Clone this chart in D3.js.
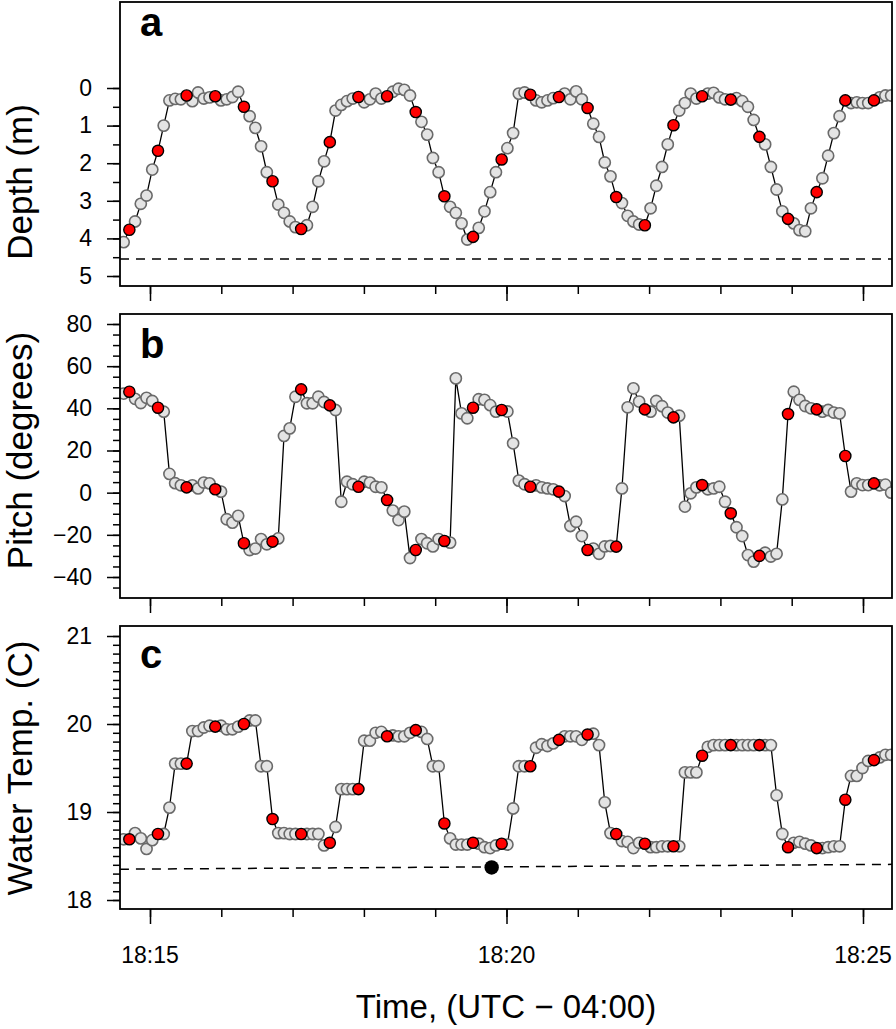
<!DOCTYPE html>
<html><head><meta charset="utf-8">
<script src="https://cdn.jsdelivr.net/npm/d3@7"></script>
<style>
body{margin:0;background:#fff}
svg{display:block}
text{font-family:"Liberation Sans",Arial,Helvetica,sans-serif;fill:#000}
</style>
</head><body>
<svg id="chart" width="896" height="1029"></svg>
<script>
// ---------------- DATA ----------------
const sampleStart = "18:14:37.8";      // first sample time (UTC-04:00)
const sampleStepSeconds = 4.82;        // regular sampling interval
const highlightStart = 1, highlightEvery = 5;  // red (highlighted) samples

const depth = [4.10,3.77,3.55,3.08,2.86,2.17,1.67,1.00,0.33,0.29,
0.30,0.20,0.35,0.12,0.28,0.25,0.22,0.33,0.30,0.24,
0.10,0.50,0.75,1.06,1.55,2.24,2.48,3.10,3.32,3.55,
3.70,3.75,3.65,3.16,2.48,1.95,1.44,0.60,0.45,0.35,
0.28,0.24,0.38,0.30,0.15,0.28,0.22,0.10,0.02,0.05,
0.20,0.64,0.90,1.24,1.86,2.24,2.88,3.16,3.32,3.60,
4.03,3.96,3.72,3.28,2.77,2.24,1.90,1.60,1.20,0.15,
0.12,0.18,0.33,0.38,0.33,0.27,0.24,0.15,0.30,0.09,
0.30,0.53,0.95,1.30,1.98,2.35,2.90,3.06,3.40,3.55,
3.63,3.65,3.20,2.60,2.10,1.50,0.99,0.60,0.40,0.15,
0.28,0.22,0.15,0.13,0.25,0.30,0.31,0.27,0.35,0.50,
0.85,1.30,1.50,2.10,2.70,3.28,3.48,3.60,3.78,3.81,
3.20,2.77,2.40,1.80,1.20,0.75,0.33,0.40,0.38,0.40,
0.40,0.33,0.25,0.20,0.20];

const pitch = [47,47.9,44.5,42.5,45,43.5,40.3,38.4,8.9,4.5,
3.5,2.5,3.5,2.0,4.8,4.4,1.6,0.5,-12.6,-14.2,
-11,-24,-27.2,-26.5,-22,-24.5,-23.2,-21.7,26.9,30.5,
45.5,49,42.4,42.4,45.5,43,41.4,39.2,-4.3,5.2,
4.0,2.8,5.2,4.8,2.8,2.5,-3.5,-8.5,-13,-9,
-31,-27.2,-22,-24,-25.5,-22,-22.9,-23.7,54.2,37.6,
35.3,40.3,44.3,44,41.5,38.4,39.2,38.5,23.4,5.7,
4,2.8,3.5,2.5,2.0,1.6,0.5,-1.6,-15.8,-13.8,
-20.6,-27.2,-26.5,-29,-25.5,-25.3,-25.6,2,40.5,49.5,
43.2,39.5,38.4,43.5,41,38,35.7,36.5,-6.6,-0.3,
2.5,3.6,1.6,2,2.8,-4.3,-9.8,-16.4,-20.6,-29.6,
-32.7,-30,-28.5,-30.3,-29,-3.2,37.3,47.9,44,41.1,
40,39.5,38.4,39.2,38,37.6,17.4,0.5,4.4,3.6,
3.6,4.4,3.5,3.8,0];

const waterTemp = [18.69,18.69,18.76,18.70,18.58,18.68,18.75,18.75,19.05,19.55,
19.55,19.55,19.92,19.92,19.96,19.98,19.97,19.98,19.94,19.94,
19.97,20.00,20.04,20.04,19.52,19.52,18.92,18.76,18.76,18.75,
18.75,18.75,18.75,18.75,18.75,18.62,18.65,18.83,19.26,19.26,
19.26,19.26,19.81,19.81,19.90,19.91,19.86,19.87,19.86,19.86,
19.90,19.93,19.91,19.83,19.52,19.52,18.87,18.70,18.63,18.63,
18.63,18.65,18.64,18.60,18.59,18.62,18.64,18.63,19.04,19.52,
19.52,19.52,19.73,19.77,19.75,19.78,19.82,19.86,19.86,19.86,
19.82,19.88,19.89,19.76,19.11,18.76,18.75,18.67,18.66,18.59,
18.65,18.64,18.60,18.60,18.61,18.61,18.61,18.61,19.45,19.45,
19.45,19.64,19.74,19.76,19.76,19.76,19.76,19.76,19.76,19.76,
19.76,19.76,19.76,19.76,19.19,18.75,18.60,18.65,18.66,18.64,
18.62,18.59,18.59,18.60,18.61,18.61,19.14,19.41,19.41,19.50,
19.58,19.59,19.62,19.65,19.65];

const depthReference = 4.55;
const tempReference = [{time:"18:14:34.7", value:18.35},{time:"18:25:24.4", value:18.405}];
const tempMarker = {time:"18:19:47.5", value:18.37};

const xTickLabels = ["18:15","18:20","18:25"];
const depthTicks = [0,1,2,3,4,5];
const pitchTicks = [-40,-20,0,20,40,60,80];
const tempTicks = [18,19,20,21];
const panelLetters = ["a","b","c"];
const yTitles = ["Depth (m)","Pitch (degrees)","Water Temp. (C)"];
const xTitle = "Time, (UTC \u2212 04:00)";

// ---------------- DRAW ----------------
const svg = d3.select("#chart");
function parseClock(s){
  const [h,m,sec] = s.split(":").map(Number);
  const d = new Date(2000,0,1,h,m,0,0);
  return new Date(d.getTime() + (sec||0)*1000);
}
const t0 = parseClock(sampleStart);
const times = depth.map((_,i)=> new Date(t0.getTime() + i*sampleStepSeconds*1000));

const boxL = 120, boxR = 892;
const x = d3.scaleTime()
  .domain([parseClock("18:15:00"), parseClock("18:25:00")])
  .range([150, 863]);
const minuteTicks = d3.timeMinute.range(parseClock("18:15:00"), parseClock("18:25:30"));
const majorTimes = xTickLabels.map(s=>parseClock(s+":00"));
const fmtTime = d3.timeFormat("%H:%M");
const fmtInt = d3.format("d");

function stepRange(lo,hi,step){
  const n = Math.round((hi-lo)/step);
  return d3.range(n+1).map(k=> +(lo+k*step).toFixed(4));
}

const panels = [
  {values:depth, top:2, bottom:286,
   y:d3.scaleLinear().domain([0,5]).range([88,276]),
   major:depthTicks, minor:stepRange(0,5,0.5), letterY:36},
  {values:pitch, top:314, bottom:598,
   y:d3.scaleLinear().domain([-40,80]).range([577,324]),
   major:pitchTicks, minor:stepRange(-45,80,5), letterY:358},
  {values:waterTemp, top:626, bottom:909,
   y:d3.scaleLinear().domain([18,21]).range([900,636]),
   major:tempTicks, minor:stepRange(18,21,0.1), letterY:668}
];

panels.forEach((p,pi)=>{
  const clipId = "clip"+pi;
  svg.append("clipPath").attr("id",clipId)
    .append("rect").attr("x",boxL).attr("y",p.top)
    .attr("width",boxR-boxL).attr("height",p.bottom-p.top);
  const g = svg.append("g").attr("clip-path",`url(#${clipId})`);

  if(pi===0){
    g.append("line").attr("x1",boxL).attr("x2",boxR)
      .attr("y1",p.y(depthReference)).attr("y2",p.y(depthReference))
      .attr("stroke","#000").attr("stroke-width",1.5).attr("stroke-dasharray","9,7");
  }
  if(pi===2){
    g.append("path").datum(tempReference)
      .attr("d", d3.line().x(d=>x(parseClock(d.time))).y(d=>p.y(d.value)))
      .attr("fill","none").attr("stroke","#000").attr("stroke-width",1.5)
      .attr("stroke-dasharray","9,7");
  }

  const pts = p.values.map((v,i)=>({t:times[i], v, hi:(i>=highlightStart && (i-highlightStart)%highlightEvery===0)}));
  g.append("path").datum(pts)
    .attr("d", d3.line().x(d=>x(d.t)).y(d=>p.y(d.v)))
    .attr("fill","none").attr("stroke","#000").attr("stroke-width",1.3);

  g.selectAll("circle.gray").data(pts.filter(d=>!d.hi)).join("circle")
    .attr("class","gray")
    .attr("cx",d=>x(d.t)).attr("cy",d=>p.y(d.v)).attr("r",5.6)
    .attr("fill","#e4e4e4").attr("stroke","#6a6a6a").attr("stroke-width",1.6);
  g.selectAll("circle.red").data(pts.filter(d=>d.hi)).join("circle")
    .attr("class","red")
    .attr("cx",d=>x(d.t)).attr("cy",d=>p.y(d.v)).attr("r",5.6)
    .attr("fill","#ff0000").attr("stroke","#000").attr("stroke-width",1.4);

  if(pi===2){
    g.append("circle")
      .attr("cx",x(parseClock(tempMarker.time))).attr("cy",p.y(tempMarker.value))
      .attr("r",7.2).attr("fill","#000");
  }

  svg.append("rect").attr("x",boxL).attr("y",p.top)
    .attr("width",boxR-boxL).attr("height",p.bottom-p.top)
    .attr("fill","none").attr("stroke","#000").attr("stroke-width",1.8);

  const gMinor = svg.append("g").attr("transform",`translate(${boxL},0)`)
    .call(d3.axisLeft(p.y).tickValues(p.minor).tickSize(7).tickFormat(""));
  const gMajor = svg.append("g").attr("transform",`translate(${boxL},0)`)
    .call(d3.axisLeft(p.y).tickValues(p.major).tickSize(13).tickPadding(15).tickFormat(fmtInt));
  [gMinor,gMajor].forEach(ga=>{
    ga.select(".domain").remove();
    ga.selectAll("line").attr("stroke","#000").attr("stroke-width",1.5);
    ga.selectAll("text").attr("font-size",23).attr("font-family",null).attr("fill","#000");
  });

  const xMinor = svg.append("g").attr("transform",`translate(0,${p.bottom})`)
    .call(d3.axisBottom(x).tickValues(minuteTicks).tickSize(8).tickFormat(""));
  const xMajor = svg.append("g").attr("transform",`translate(0,${p.bottom})`)
    .call(d3.axisBottom(x).tickValues(majorTimes).tickSize(15).tickFormat(""));
  [xMinor,xMajor].forEach(ga=>{
    ga.select(".domain").remove();
    ga.selectAll("line").attr("stroke","#000").attr("stroke-width",1.5);
  });
  if(pi===2){
    svg.append("g").selectAll("text").data(majorTimes).join("text")
      .attr("x",d=>x(d)).attr("y",963).attr("text-anchor","middle")
      .attr("font-size",23).text(d=>fmtTime(d));
  }

  svg.append("text").attr("x",140).attr("y",p.letterY)
    .attr("font-size",40).attr("font-weight","bold").text(panelLetters[pi]);

  const yc = (p.y.range()[0]+p.y.range()[1])/2;
  svg.append("text").attr("transform",`translate(32,${yc}) rotate(-90)`)
    .attr("text-anchor","middle").attr("font-size",35).text(yTitles[pi]);
});

svg.append("text").attr("x",506).attr("y",1018).attr("text-anchor","middle")
  .attr("font-size",33).text(xTitle);
</script>
</body></html>
